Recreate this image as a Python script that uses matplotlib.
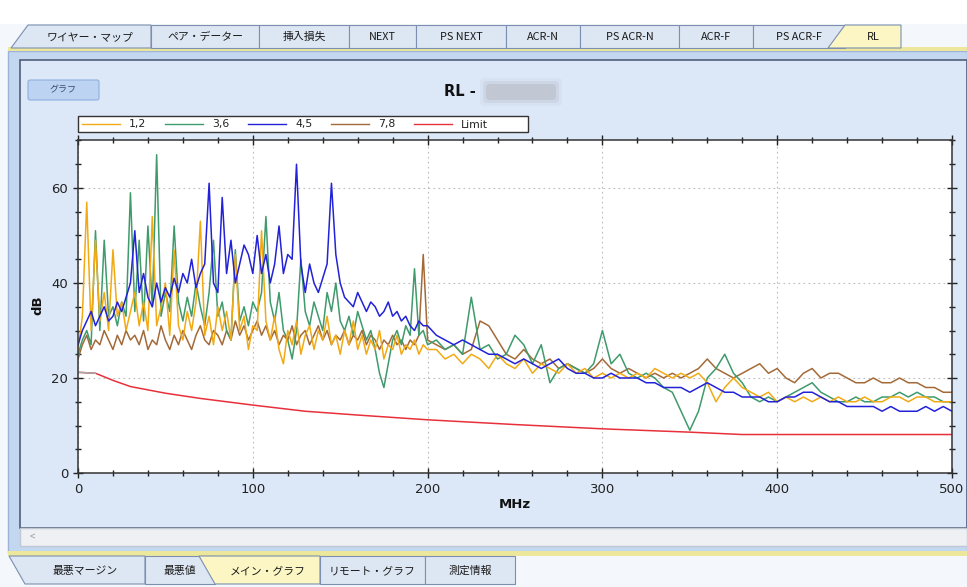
import numpy as np
import matplotlib
matplotlib.use("Agg")
import matplotlib.pyplot as plt
from matplotlib.patches import Rectangle, Polygon, FancyBboxPatch
from matplotlib.ticker import MultipleLocator

plt.rcParams['font.family'] = ['Noto Sans CJK JP', 'DejaVu Sans']

# frequency grid (MHz)
freq_lo = np.arange(0, 200.1, 2.5)
freq_hi = np.arange(205, 500.1, 5)

# return loss per pair, dB
pair_12 = [26, 33, 57, 30, 49, 32, 38, 30, 47, 33,
           36, 30, 34, 38, 31, 36, 30, 54, 31, 35,
           40, 29, 47, 31, 28, 34, 30, 36, 53, 29,
           33, 27, 35, 30, 34, 28, 46, 30, 33, 26,
           31, 30, 51, 32, 28, 33, 26, 23, 30, 27,
           32, 25, 29, 31, 26, 30, 28, 33, 27, 29,
           25, 30, 27, 32, 26, 29, 25, 28, 26, 30,
           24, 27, 26, 29, 25, 27, 26, 28, 25, 27,
           26,
           26, 24, 25, 23, 25, 24, 22, 25, 23, 22,
           24, 21, 23, 22, 21, 23, 21, 22, 20, 21,
           20, 21, 20, 21, 20, 22, 21, 20, 21, 20,
           21, 19, 15, 18, 20, 18, 17, 16, 17, 15,
           16, 15, 16, 15, 16, 15, 16, 15, 15, 16,
           15, 15, 16, 16, 15, 16, 16, 15, 15, 15]

pair_36 = [25, 28, 30, 27, 51, 30, 49, 33, 35, 31,
           36, 33, 59, 34, 49, 32, 52, 35, 67, 33,
           38, 34, 52, 36, 32, 37, 33, 40, 35, 31,
           38, 49, 33, 36, 30, 28, 47, 32, 35, 31,
           36, 34, 38, 54, 36, 32, 38, 30, 28, 24,
           30, 45, 34, 31, 36, 33, 30, 38, 34, 40,
           32, 30, 33, 29, 34, 31, 28, 30, 26, 21,
           18, 23, 28, 30, 27, 31, 29, 43, 29, 30,
           27,
           28, 26, 27, 25, 37, 26, 27, 24, 25, 29,
           27, 23, 27, 19, 22, 23, 22, 21, 23, 30,
           23, 25, 21, 20, 21, 20, 18, 17, 13, 9,
           13, 20, 22, 25, 21, 19, 16, 15, 16, 15,
           16, 17, 18, 19, 17, 16, 15, 15, 16, 15,
           15, 16, 16, 17, 16, 17, 16, 16, 15, 15]

pair_45 = [27, 30, 32, 34, 31, 33, 35, 32, 33, 36,
           34, 37, 40, 51, 38, 42, 37, 35, 40, 36,
           39, 37, 41, 38, 42, 40, 45, 39, 42, 44,
           61, 40, 38, 58, 42, 49, 40, 44, 48, 46,
           42, 50, 42, 46, 40, 44, 52, 42, 46, 45,
           65, 44, 38, 44, 40, 38, 41, 44, 61, 46,
           40, 37, 36, 35, 38, 36, 34, 36, 35, 33,
           34, 36, 33, 34, 32, 33, 31, 30, 32, 31,
           31,
           29, 28, 27, 28, 27, 26, 25, 25, 24, 23,
           24, 23, 22, 23, 24, 22, 21, 21, 20, 20,
           21, 20, 20, 20, 19, 19, 18, 18, 18, 17,
           18, 19, 18, 17, 17, 16, 16, 16, 15, 15,
           16, 16, 17, 17, 16, 15, 15, 14, 14, 14,
           14, 13, 14, 13, 13, 13, 14, 13, 14, 13]

pair_78 = [24, 27, 29, 26, 28, 27, 30, 28, 26, 29,
           27, 30, 28, 29, 27, 30, 26, 28, 27, 31,
           28, 26, 29, 27, 30, 28, 26, 29, 31, 28,
           27, 30, 29, 27, 30, 28, 32, 29, 31, 28,
           30, 32, 29, 31, 28, 30, 27, 29, 28, 31,
           27, 29, 30, 27, 29, 31, 28, 30, 27, 29,
           28, 30, 27, 29, 28, 30, 27, 29, 28, 26,
           28, 27, 29, 27, 28, 26, 28, 27, 29, 46,
           28,
           27, 26, 27, 25, 26, 32, 31, 28, 25, 24,
           26, 24, 23, 24, 22, 23, 22, 21, 22, 24,
           22, 21, 22, 21, 20, 21, 20, 21, 20, 21,
           22, 24, 22, 21, 20, 21, 22, 23, 21, 22,
           20, 19, 21, 22, 20, 21, 21, 20, 19, 19,
           20, 19, 19, 20, 19, 19, 18, 18, 17, 17]

limit_freq = [0, 10, 20, 30, 50, 70, 100, 130, 160, 200, 250, 300, 350, 380, 500]
limit_db = [21.2, 21.0, 19.5, 18.2, 16.8, 15.7, 14.3, 13.0, 12.2, 11.2, 10.2, 9.3, 8.6, 8.1, 8.1]

series_names = ["1,2", "3,6", "4,5", "7,8", "Limit"]
series_colors = ["#f2aa14", "#3f9a6c", "#2222d8", "#a36a38", "#e8303a"]

top_tabs = ["ワイヤー・マップ", "ペア・データー", "挿入損失", "NEXT", "PS NEXT",
            "ACR-N", "PS ACR-N", "ACR-F", "PS ACR-F", "RL"]
top_edges = [28, 151, 259, 349, 416, 506, 580, 679, 753, 845, 901]
bottom_tabs = ["最悪マージン", "最悪値", "メイン・グラフ", "リモート・グラフ", "測定情報"]
bottom_edges = [25, 145, 215, 320, 425, 515]

freq = np.concatenate([freq_lo, freq_hi])

fig = plt.figure(figsize=(9.67, 5.87), dpi=100)

# window chrome, drawn in pixel coordinates
ui = fig.add_axes([0, 0, 1, 1])
ui.set_xlim(0, 967)
ui.set_ylim(587, 0)
ui.axis('off')


def box(x0, y0, x1, y1, fc, ec='none', lw=1.0, z=1):
    ui.add_patch(Rectangle((x0, y0), x1 - x0, y1 - y0, fc=fc, ec=ec, lw=lw, zorder=z))


box(0, 0, 967, 587, '#f4f7fb', z=0)
box(0, 0, 967, 24, 'white')
box(8, 51, 967, 553, '#c4d7f0', ec='#9db4d8')
box(20, 60, 967, 528, '#dce8f8', ec='#4f5d78', lw=1.2)
box(20, 528, 967, 546, '#eef0f3', ec='#c0c8d4')
ui.text(32, 537, '<', ha='center', va='center', fontsize=7, color='#999999', zorder=3)
box(8, 47, 967, 51, '#ece79a', z=2)
box(8, 551, 967, 556, '#ece79a', z=2)

# top tabs
for i, name in enumerate(top_tabs):
    x0, x1 = top_edges[i], top_edges[i + 1]
    fc = '#dde6f3'
    if name == "RL":
        fc = '#fbf6c4'
    if i == 0 or name == "RL":
        pts = [(x0 - 17, 48), (x0, 25), (x1, 25), (x1, 48)]
    else:
        pts = [(x0, 48), (x0, 25), (x1, 25), (x1, 48)]
    ui.add_patch(Polygon(pts, closed=True, fc=fc, ec='#7d8fb0', lw=0.8, zorder=3))
    ui.text((x0 + x1) / 2, 37, name, ha='center', va='center', fontsize=7.8,
            color='#1a1a1a', zorder=4)

# bottom tabs
for i, name in enumerate(bottom_tabs):
    x0, x1 = bottom_edges[i], bottom_edges[i + 1]
    fc = '#dde6f3'
    if name == "メイン・グラフ":
        fc = '#fbf6c4'
    if i == 0 or name == "メイン・グラフ":
        pts = [(x0 - 16, 556), (x0, 584), (x1, 584), (x1, 556)]
    else:
        pts = [(x0, 556), (x0, 584), (x1, 584), (x1, 556)]
    ui.add_patch(Polygon(pts, closed=True, fc=fc, ec='#7d8fb0', lw=0.8, zorder=3))
    ui.text((x0 + x1) / 2, 571, name, ha='center', va='center', fontsize=7.8,
            color='#1a1a1a', zorder=4)

# graph button and title
ui.add_patch(FancyBboxPatch((28, 80), 71, 20, boxstyle='round,pad=0,rounding_size=2',
                            fc='#bdd3f2', ec='#8fb0e0', lw=0.8, zorder=3))
ui.text(63, 90, 'グラフ', ha='center', va='center', fontsize=6.5, color='#3a4a6a', zorder=4)
ui.text(460, 92, 'RL -', ha='center', va='center', fontsize=10.5, fontweight='bold',
        family='DejaVu Sans', color='#111111', zorder=4)
for pad, a in [(6, 0.15), (3, 0.3), (0, 0.6)]:
    ui.add_patch(FancyBboxPatch((486 - pad, 84 - pad), 70 + 2 * pad, 16 + 2 * pad,
                                boxstyle='round,pad=0,rounding_size=4',
                                fc='#b9bdc9', ec='none', alpha=a, zorder=3))

# legend box
box(78, 116, 528, 132, 'white', ec='#333333', lw=1.0, z=3)
for k, name in enumerate(series_names):
    lx = 82 + k * 83
    ui.plot([lx, lx + 38], [124, 124], color=series_colors[k], lw=1.0, zorder=4)
    ui.text(lx + 47, 124.5, name, ha='left', va='center', fontsize=7.8,
            family='DejaVu Sans', color='#222222', zorder=4)

# axis titles
ui.text(515, 505, 'MHz', ha='center', va='center', fontsize=9.5, fontweight='bold',
        family='DejaVu Sans', color='#111111', zorder=4)
ui.text(38, 305, 'dB', ha='center', va='center', rotation=90, fontsize=9.5,
        fontweight='bold', family='DejaVu Sans', color='#111111', zorder=4)

# plot area
ax = fig.add_axes([78 / 967, (587 - 473) / 587, (952 - 78) / 967, (473 - 140.5) / 587])
ax.set_facecolor('white')
ax.plot(freq, pair_78, color=series_colors[3], lw=1.1)
ax.plot(freq, pair_36, color=series_colors[1], lw=1.1)
ax.plot(freq, pair_12, color=series_colors[0], lw=1.1)
ax.plot(freq, pair_45, color=series_colors[2], lw=1.1)
ax.plot(limit_freq, limit_db, color=series_colors[4], lw=1.1)
ax.plot(limit_freq[:2], limit_db[:2], color='#a8a8a8', lw=1.1)

ax.set_xlim(0, 500)
ax.set_ylim(0, 70)
ax.xaxis.set_major_locator(MultipleLocator(100))
ax.xaxis.set_minor_locator(MultipleLocator(20))
ax.yaxis.set_major_locator(MultipleLocator(20))
ax.yaxis.set_minor_locator(MultipleLocator(5))
ax.grid(True, which='major', color='#bbbbbb', linestyle=(0, (1.5, 3)), lw=0.8)
ax.tick_params(which='both', direction='inout', top=True, right=True,
               colors='#222222', labelsize=9.5, width=1.0)
ax.tick_params(which='major', length=7)
ax.tick_params(which='minor', length=5)
for lab in ax.get_xticklabels() + ax.get_yticklabels():
    lab.set_family('DejaVu Sans')
for sp in ax.spines.values():
    sp.set_color('#333333')
    sp.set_linewidth(1.1)

fig.savefig('out.png', dpi=100)
